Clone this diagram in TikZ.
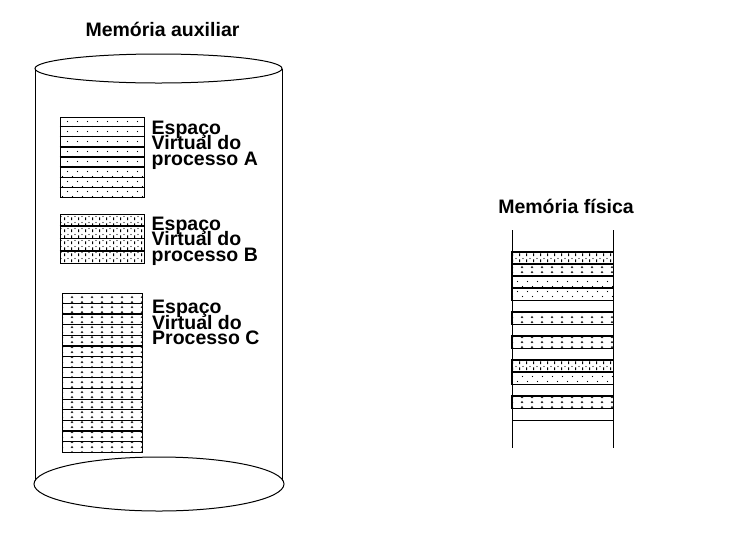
\documentclass[tikz,border=0pt]{standalone}
\usepackage{fontspec}
\setmainfont{Liberation Sans}
\usetikzlibrary{calc,positioning,patterns}

% fill patterns for the three process spaces
\pgfdeclarepatternformonly{stipple}{\pgfqpoint{-1pt}{-1pt}}{\pgfqpoint{11pt}{11pt}}{\pgfqpoint{10pt}{10pt}}{
    \pgfpathcircle{\pgfqpoint{2.5pt}{2.5pt}}{0.6pt}
    \pgfpathcircle{\pgfqpoint{7.5pt}{7.5pt}}{0.6pt}
    \pgfusepath{fill}
}
\pgfdeclarepatternformonly{ticks}{\pgfqpoint{-1pt}{-1pt}}{\pgfqpoint{8pt}{7pt}}{\pgfqpoint{7pt}{6pt}}{
    \pgfpathrectangle{\pgfqpoint{1.2pt}{0.8pt}}{\pgfqpoint{0.9pt}{2.8pt}}
    \pgfpathcircle{\pgfqpoint{5pt}{4.5pt}}{0.6pt}
    \pgfusepath{fill}
}
\pgfdeclarepatternformonly{carets}{\pgfqpoint{-1pt}{-1pt}}{\pgfqpoint{11pt}{6pt}}{\pgfqpoint{10pt}{5pt}}{
    \pgfsetlinewidth{0.6pt}
    \pgfpathmoveto{\pgfqpoint{1pt}{1pt}}
    \pgfpathlineto{\pgfqpoint{2pt}{2.6pt}}
    \pgfpathlineto{\pgfqpoint{3pt}{1pt}}
    \pgfusepath{stroke}
}

\newcommand{\strips}[2]{
    \foreach \i in {1,...,\numexpr#2-1\relax}
        \draw[sep] ($(#1.north west)!\i/#2!(#1.south west)$) -- ($(#1.north east)!\i/#2!(#1.south east)$);
}
\newcommand{\tightlines}{\lineskiplimit=-100pt\relax\lineskip=0pt\relax}

\tikzset{
    title/.style={
        font=\fontsize{19.5}{23}\selectfont\bfseries,
        anchor=base,
        inner sep=0pt
    },
    caption/.style={
        font=\fontsize{19.5}{15.5}\selectfont\bfseries\tightlines,
        align=left,
        anchor=north west,
        inner sep=0pt
    },
    space/.style={
        draw,
        line width=0.9pt,
        inner sep=0pt
    },
    sep/.style={line width=1.3pt},
    slot/.style={
        draw,
        line width=0.8pt,
        inner sep=0pt,
        minimum width=101pt,
        minimum height=12pt
    }
}

\begin{document}
\begin{tikzpicture}[x=1pt,y=-1pt]
    \useasboundingbox (0,0) rectangle (744,539);

    % auxiliary memory (disk)
    \node[title] (aux) at (162.5,36) {Memória auxiliar};
    \draw[line width=1pt] (158.5,68.5) ellipse [x radius=123.5, y radius=14.5];
    \draw[line width=1pt] (35,68.5) -- (35,480.6);
    \draw[line width=1pt] (282,68.5) -- (282,480.6);
    \draw[line width=1pt] (159,484) ellipse [x radius=125, y radius=27];

    \node[space, pattern=stipple, minimum width=84pt, minimum height=80pt] (spaceA) at (102,157) {};
    \strips{spaceA}{8}
    \node[caption] (capA) at (151.5,120.5) {Espaço\\Virtual do\\processo A};

    \node[space, pattern=ticks, minimum width=84pt, minimum height=49pt] (spaceB) at (102,238.5) {};
    \strips{spaceB}{4}
    \node[caption] (capB) at (151.5,216.5) {Espaço\\Virtual do\\processo B};

    \node[space, pattern=carets, minimum width=80pt, minimum height=159pt] (spaceC) at (102.7,372.5) {};
    \strips{spaceC}{15}
    \node[caption] (capC) at (152,300) {Espaço\\Virtual do\\Processo C};

    % physical memory
    \node[title] (phys) at (566,213) {Memória física};
    \draw[line width=1pt] (512,230) -- (512,448);
    \draw[line width=1pt] (613,230) -- (613,448);
    \foreach \i in {0,...,13}
        \node[slot] (slot\i) at (562.5,258+12*\i) {};
    \foreach \i/\p in {0/ticks,1/carets,2/stipple,3/stipple,5/carets,7/carets,9/ticks,10/stipple,12/carets}
        \draw[line width=1.4pt, pattern=\p] (slot\i.north west) rectangle (slot\i.south east);
\end{tikzpicture}
\end{document}
